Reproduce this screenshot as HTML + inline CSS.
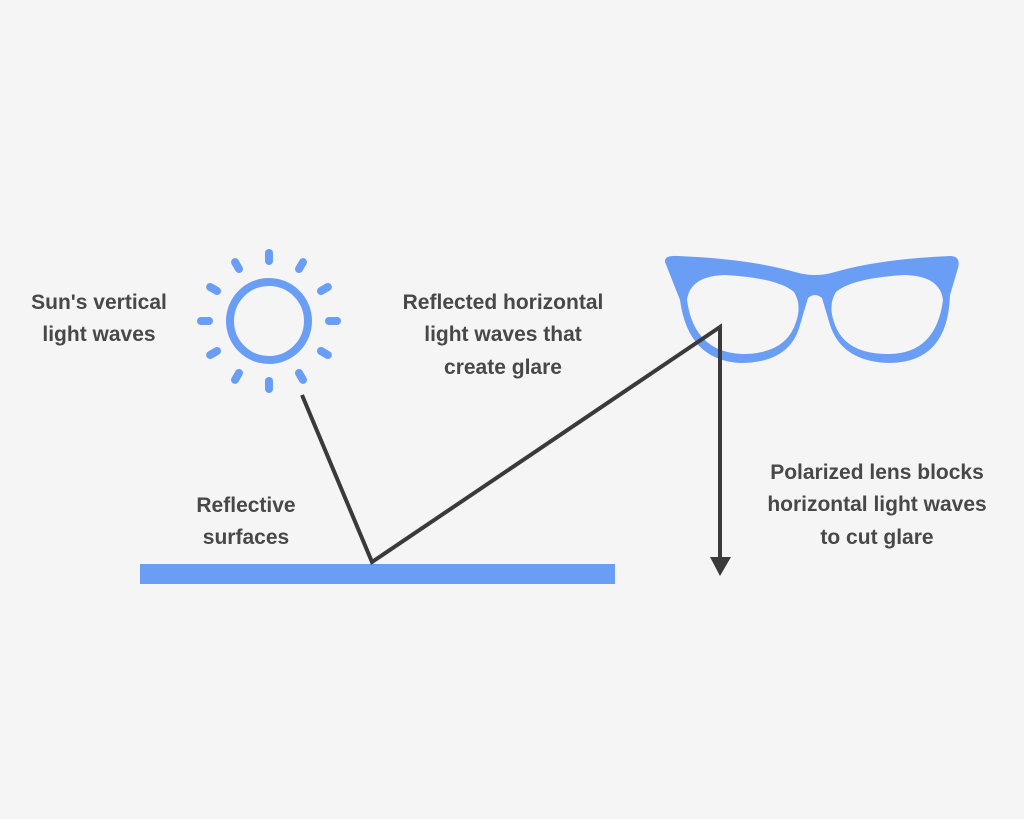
<!DOCTYPE html>
<html><head><style>
html,body{margin:0;padding:0;background:#f5f5f6;}
svg{display:block}
text{font-family:"Liberation Sans",sans-serif;font-weight:bold;font-size:21px;fill:#484848;text-anchor:middle}
</style></head><body>
<svg width="1024" height="819" viewBox="0 0 1024 819">
<rect width="1024" height="819" fill="#f5f5f6"/>
<g fill="none" stroke="#6a9ef5" stroke-linecap="round">
<circle cx="269" cy="321" r="39" stroke-width="8"/>
<g stroke-width="8" transform="translate(269,321)">
<line x1="0" y1="-60" x2="0" y2="-68"/>
<line x1="0" y1="60" x2="0" y2="68"/>
<line x1="60" y1="0" x2="68" y2="0"/>
<line x1="-60" y1="0" x2="-68" y2="0"/>
<g transform="rotate(30)"><line x1="0" y1="-60" x2="0" y2="-68"/><line x1="0" y1="60" x2="0" y2="68"/><line x1="60" y1="0" x2="68" y2="0"/><line x1="-60" y1="0" x2="-68" y2="0"/></g>
<g transform="rotate(60)"><line x1="0" y1="-60" x2="0" y2="-68"/><line x1="0" y1="60" x2="0" y2="68"/><line x1="60" y1="0" x2="68" y2="0"/><line x1="-60" y1="0" x2="-68" y2="0"/></g>
</g>
</g>
<path fill="#6a9ef5" fill-rule="evenodd" d="M665,262 Q664,255 678,256 Q750,259 795,272 Q815,278 835,272 Q880,259 950,256 Q961,256 958,268 L950,295 Q948,362 890,363 Q842,362 830,325 L822,298 Q815,292 808,298 L800,325 Q790,363 740,363 Q688,360 680,300 Z
M687,300 Q690,276 725,275 Q778,278 794,292 Q802,305 796,322 Q786,354 742,354 Q694,352 687,300 Z
M836,292 Q852,278 905,275 Q940,276 943,300 Q936,354 888,354 Q844,354 834,322 Q828,305 836,292 Z"/>
<rect x="140" y="564" width="475" height="20" fill="#6a9ef5"/>
<polyline points="302,395 372,562 720,327 720,560" fill="none" stroke="#3a3a3a" stroke-width="4" stroke-linejoin="miter"/>
<polygon points="710,557 731,557 720,576" fill="#3a3a3a"/>
<text x="99" y="309">Sun's vertical</text>
<text x="99" y="341">light waves</text>
<text x="503" y="309">Reflected horizontal</text>
<text x="503" y="341">light waves that</text>
<text x="503" y="374">create glare</text>
<text x="246" y="512">Reflective</text>
<text x="246" y="544">surfaces</text>
<text x="877" y="479">Polarized lens blocks</text>
<text x="877" y="511">horizontal light waves</text>
<text x="877" y="544">to cut glare</text>
</svg>
</body></html>
